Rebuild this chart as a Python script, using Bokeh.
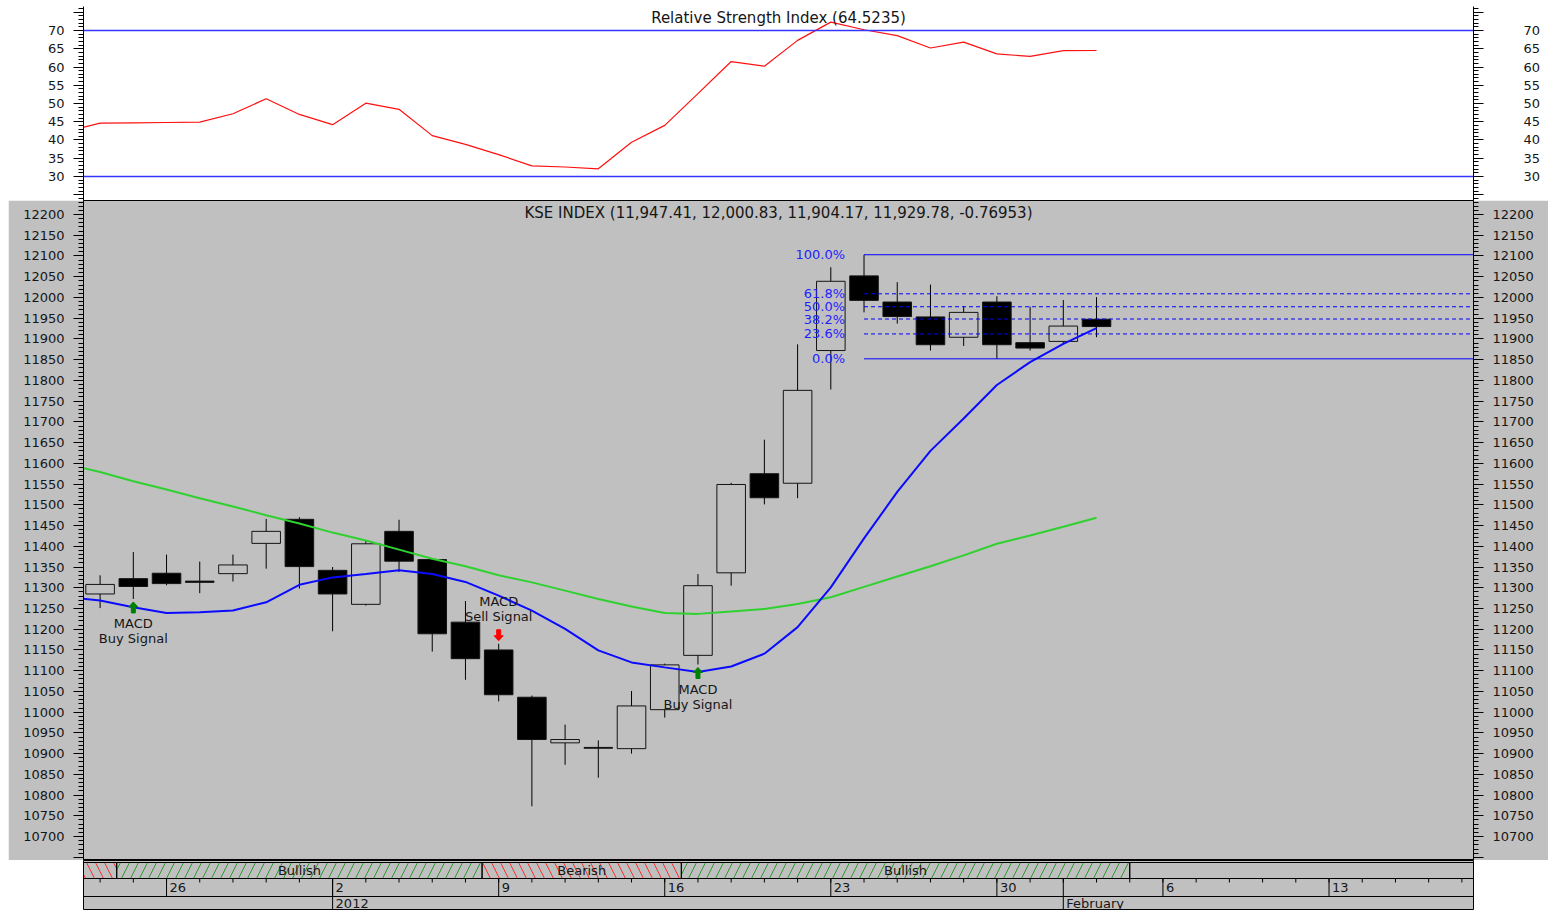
import pandas as pd
from bokeh.plotting import figure
from bokeh.models import Range1d, LinearAxis, FixedTicker, ColumnDataSource, Span, Spacer
from bokeh.layouts import column, row
from bokeh.core.properties import value
from bokeh.embed import file_html
from bokeh.resources import INLINE

# ------------------------------------------------------------------ data
dates = [d.strftime("%Y-%m-%d") for d in pd.bdate_range("2011-12-21", "2012-02-17")]

candle_dates = dates[1:32]
opens = [11285, 11322, 11335, 11316, 11334, 11407, 11465, 11342, 11260, 11436, 11368,
         11217, 11150, 11036, 10926, 10915, 10912, 11006, 11137, 11336, 11575, 11552,
         11872, 12052, 11989, 11953, 11904, 11989, 11891, 11894, 11947.41]
highs = [11330, 11386, 11380, 11363, 11380, 11466, 11470, 11350, 11414, 11464, 11370,
         11268, 11165, 11040, 10970, 10932, 11051, 11117, 11333, 11553, 11657, 11887,
         12073, 12103, 12037, 12031, 11979, 12003, 11978, 11994, 12000.83]
lows = [11251, 11273, 11306, 11287, 11315, 11346, 11298, 11195, 11257, 11338, 11146,
        11078, 11026, 10773, 10873, 10842, 10900, 10987, 11115, 11305, 11501, 11516,
        11778, 11964, 11937, 11872, 11883, 11852, 11872, 11888, 11904.17]
closes = [11308, 11303, 11310, 11313, 11355, 11436, 11351, 11285, 11406, 11364, 11189,
          11129, 11042, 10934, 10934, 10913, 11015, 11114, 11305, 11549, 11517, 11776,
          12039, 11993, 11954, 11886, 11964, 11886, 11878, 11931, 11929.78]
last_change = -0.76953

line_dates = dates[0:32]
rsi = [42.4, 44.6, 44.7, 44.8, 44.9, 47.2, 51.3, 47.0, 44.2, 50.1, 48.4, 41.2, 38.8,
       36.0, 32.9, 32.6, 32.1, 39.4, 44.0, 52.7, 61.5, 60.2, 67.3, 72.3, 70.2, 68.6,
       65.2, 66.8, 63.6, 62.9, 64.5, 64.5235]
ma_fast = [11278, 11269, 11253, 11239, 11241, 11245, 11265, 11307, 11325, 11333, 11342,
           11333, 11314, 11281, 11245, 11201, 11149, 11120, 11108, 11097, 11110, 11141,
           11205, 11301, 11419, 11531, 11630, 11708, 11789, 11844, 11888, 11926]
ma_slow = [11598, 11579, 11557, 11537, 11516, 11496, 11475, 11455, 11433, 11414, 11392,
           11370, 11352, 11330, 11313, 11293, 11273, 11255, 11239, 11237, 11243, 11249,
           11261, 11277, 11302, 11327, 11352, 11378, 11406, 11426, 11447, 11469]

rsi_levels = [30, 70]

fib_start_date = "2012-01-24"
fib_labels = ["0.0%", "23.6%", "38.2%", "50.0%", "61.8%", "100.0%"]
fib_prices = [11852, 11912, 11948, 11977.6, 12008.8, 12103]

signal_dates = ["2011-12-23", "2012-01-09", "2012-01-17"]
signal_kinds = ["Buy", "Sell", "Buy"]

band_labels = ["Bearish", "Bullish", "Bearish", "Bullish"]
band_starts = ["2011-12-22", "2011-12-23", "2012-01-09", "2012-01-17"]
band_last = "2012-02-03"

rsi_ticks = list(range(25, 80, 5))
price_ticks = list(range(10650, 12250, 50))

# ------------------------------------------------------------------ layout constants
W = 1540
LB, RB = 75, 75
FRAME_W = W - LB - RB
RSI_H, RSI_TOP, MAIN_H, STRIP_H = 200, 6, 660, 50
X0, X1 = 0.5, 42.35
xr = Range1d(X0, X1)
FONT = value("DejaVu Sans")
TXT = "#161616"
GRAY = "#c0c0c0"
pos = {d: i for i, d in enumerate(dates)}
px_x = (X1 - X0) / FRAME_W


def style_axis(ax, ticks, minor, overrides, standoff):
    ax.ticker = FixedTicker(ticks=ticks, minor_ticks=minor)
    ax.major_label_overrides = overrides
    ax.axis_line_color = "black"
    ax.axis_line_width = 1
    ax.major_tick_line_color = "black"
    ax.minor_tick_line_color = "black"
    ax.major_tick_in = 0
    ax.major_tick_out = 10
    ax.minor_tick_in = 0
    ax.minor_tick_out = 5
    ax.major_label_standoff = standoff
    ax.major_label_text_font = "DejaVu Sans"
    ax.major_label_text_font_size = "13px"
    ax.major_label_text_color = TXT


def base_fig(h, yr, bg, border, outline, top=0):
    f = figure(width=W, height=h, x_range=xr, y_range=yr, x_axis_location=None,
               y_axis_location=None, output_backend="svg", toolbar_location=None,
               min_border_left=LB, min_border_right=RB, min_border_top=top,
               min_border_bottom=0, background_fill_color=bg,
               border_fill_color=border, outline_line_color=outline)
    f.grid.visible = False
    return f


# ------------------------------------------------------------------ RSI panel
r0, r1 = 23.42, 76.58
upy_r = (r1 - r0) / (RSI_H - RSI_TOP)
p_rsi = base_fig(RSI_H, Range1d(r0, r1), "white", "white", None, top=RSI_TOP)
for side, so in (("left", 9), ("right", 40)):
    ax = LinearAxis()
    p_rsi.add_layout(ax, side)
    style_axis(ax, rsi_ticks, list(range(24, 77)), {25: "", 75: ""}, so)
for lv in rsi_levels:
    p_rsi.add_layout(Span(location=lv, dimension="width", line_color="#3434ff", line_width=1.5))
p_rsi.line([pos[d] for d in line_dates], rsi, line_color="#ff1010", line_width=1.2)
p_rsi.text(x=[(X0 + X1) / 2], y=[r1 - 11 * upy_r],
           text=[f"Relative Strength Index ({rsi[-1]})"], text_font=FONT,
           text_font_size="15px", text_color=TXT, text_align="center",
           text_baseline="middle")

# ------------------------------------------------------------------ price panel
y0, y1 = 10642.3, 12233.8
upy = (y1 - y0) / MAIN_H
p = base_fig(MAIN_H, Range1d(y0, y1), GRAY, GRAY, "black")
for side in ("left", "right"):
    ax = LinearAxis()
    p.add_layout(ax, side)
    style_axis(ax, price_ticks, list(range(10640, 12240, 10)), {10650: ""}, 9)

up = [c > o for o, c in zip(opens, closes)]
src = ColumnDataSource(dict(
    x=[pos[d] for d in candle_dates], high=highs, low=lows,
    top=[max(o, c) for o, c in zip(opens, closes)],
    bottom=[min(o, c) for o, c in zip(opens, closes)],
    fill=[GRAY if u else "black" for u in up],
))
p.segment(x0="x", y0="high", x1="x", y1="low", source=src, line_color="black", line_width=1)
p.vbar(x="x", width=0.86, top="top", bottom="bottom", source=src, fill_color="fill",
       line_color="#141414", line_width=1)

lx = [pos[d] for d in line_dates]
p.line(lx, ma_slow, line_color="#2ed12e", line_width=2)
p.line(lx, ma_fast, line_color="#0a0aff", line_width=2)

# Fibonacci retracement
fx = pos[fib_start_date]
for lab, pr in zip(fib_labels, fib_prices):
    solid = lab in ("0.0%", "100.0%")
    p.segment(x0=[fx], y0=[pr], x1=[X1], y1=[pr], line_color="#0000ff", line_width=1,
              line_dash="solid" if solid else "4 3")
p.text(x=[fx] * len(fib_prices), y=fib_prices, text=fib_labels, x_offset=-19,
       text_font=FONT, text_font_size="13px", text_color="#2222ff", text_align="right",
       text_baseline="middle")

# MACD signals
axs, ays, acol = [], [], []
tx, ty, tt = [], [], []
for d, k in zip(signal_dates, signal_kinds):
    i = candle_dates.index(d)
    x = pos[d]
    hw, sw = 4.5 * px_x, 2.0 * px_x
    if k == "Buy":
        tip = lows[i] - 3 * upy
        s = 1
        col = "#008000"
        tx += [x, x]
        ty += [tip - 22 * upy, tip - 37 * upy]
        tt += ["MACD", "Buy Signal"]
    else:
        tip = highs[i] + 3 * upy
        s = -1
        col = "#ff0000"
        tx += [x, x]
        ty += [tip + 39 * upy, tip + 24 * upy]
        tt += ["MACD", "Sell Signal"]
    hh, tl = 5 * upy * s, 11 * upy * s
    axs.append([x, x - hw, x - sw, x - sw, x + sw, x + sw, x + hw])
    ays.append([tip, tip - hh, tip - hh, tip - tl, tip - tl, tip - hh, tip - hh])
    acol.append(col)
p.patches(axs, ays, fill_color=acol, line_color=acol, line_width=1)
p.text(x=tx, y=ty, text=tt, text_font=FONT, text_font_size="13px", text_color=TXT,
       text_align="center", text_baseline="middle")

title = (f"KSE INDEX ({opens[-1]:,.2f}, {highs[-1]:,.2f}, {lows[-1]:,.2f}, "
         f"{closes[-1]:,.2f}, {last_change})")
p.text(x=[(X0 + X1) / 2], y=[y1 - 12 * upy], text=[title], text_font=FONT,
       text_font_size="15px", text_color=TXT, text_align="center", text_baseline="middle")

# ------------------------------------------------------------------ bottom strip
BAND_T, BAND_B, DATE_B = 48, 32, 14
p_s = base_fig(STRIP_H, Range1d(0, STRIP_H), GRAY, "white", "black")
edges = [pos[d] - 0.5 for d in band_starts] + [pos[band_last]]
for j, lab in enumerate(band_labels):
    left, right = edges[j], edges[j + 1]
    bull = lab == "Bullish"
    p_s.quad(left=[left], right=[right], top=[BAND_T], bottom=[BAND_B], fill_color=None,
             line_color="black", line_width=1, hatch_pattern="/" if bull else "\\",
             hatch_color="#2c9a2c" if bull else "#ff3030", hatch_scale=18, hatch_weight=1)
    if right - left > 3:
        p_s.text(x=[(left + right) / 2], y=[(BAND_T + BAND_B) / 2], text=[lab],
                 text_font=FONT, text_font_size="13px", text_color=TXT,
                 text_align="center", text_baseline="middle")
p_s.quad(left=[edges[-1]], right=[X1], top=[BAND_T], bottom=[BAND_B], fill_color=None,
         line_color="black", line_width=1)
p_s.add_layout(Span(location=DATE_B, dimension="width", line_color="black", line_width=1))

ts = pd.to_datetime(pd.Series(dates))
day_x = [i for i in range(len(dates)) if i >= 1]
p_s.segment(x0=day_x, y0=[BAND_B] * len(day_x), x1=day_x, y1=[BAND_B - 4] * len(day_x),
            line_color="black", line_width=1)
mon_x = [i for i in day_x if ts[i].weekday() == 0]
p_s.segment(x0=mon_x, y0=[BAND_B] * len(mon_x), x1=mon_x, y1=[DATE_B] * len(mon_x),
            line_color="black", line_width=1)
p_s.text(x=mon_x, y=[(BAND_B + DATE_B) / 2] * len(mon_x),
         text=[str(ts[i].day) for i in mon_x], x_offset=3, text_font=FONT,
         text_font_size="13px", text_color=TXT, text_align="left", text_baseline="middle")
month_x = [i for i in day_x if ts[i].month != ts[i - 1].month]
month_lab = [str(ts[i].year) if ts[i].month == 1 else ts[i].strftime("%B") for i in month_x]
p_s.segment(x0=month_x, y0=[BAND_B] * len(month_x), x1=month_x, y1=[0] * len(month_x),
            line_color="black", line_width=1)
p_s.text(x=month_x, y=[DATE_B / 2] * len(month_x), text=month_lab, x_offset=3,
         text_font=FONT, text_font_size="13px", text_color=TXT, text_align="left",
         text_baseline="middle")

layout = row(Spacer(width=8, height=RSI_H + MAIN_H + STRIP_H),
             column(p_rsi, p, p_s, spacing=0), spacing=0)
open("out.html", "w").write(file_html(layout, INLINE))
